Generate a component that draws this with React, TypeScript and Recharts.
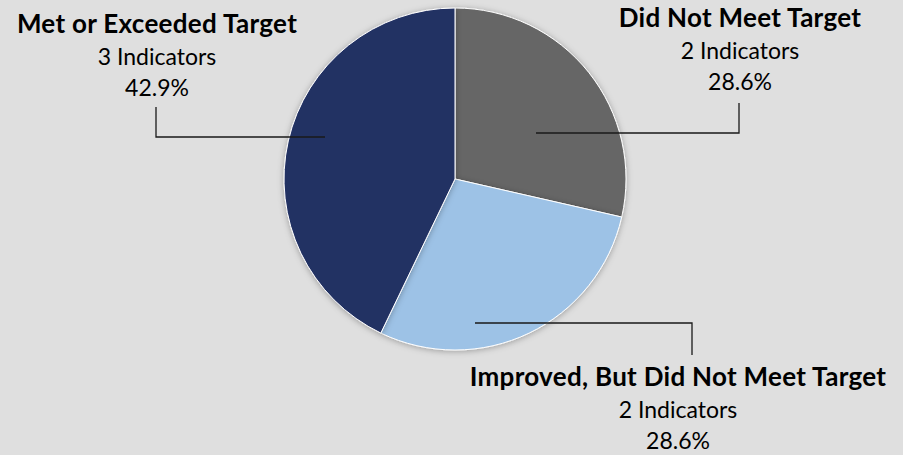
import { Cell, Pie, PieChart } from "recharts";

const CATEGORIES = [
  "Did Not Meet Target",
  "Improved, But Did Not Meet Target",
  "Met or Exceeded Target",
];
const INDICATOR_COUNTS = [2, 2, 3];
const SLICE_COLORS = ["#666666", "#9dc2e6", "#223064"];

// label placement relative to the pie centre (px): anchor in slice, elbow, text
const LABEL_LAYOUT = [
  { ax: 81, ay: -46, ex: 284, ey: -76, tx: 285, ty: -152 },
  { ax: 20, ay: 144, ex: 237, ey: 176, tx: 223, ty: 207 },
  { ax: -130, ay: -42, ex: -299, ey: -72, tx: -298, ty: -146 },
];

const chartData = CATEGORIES.map((name, i) => ({
  name,
  count: INDICATOR_COUNTS[i],
}));

const FONT = "Lato, 'Open Sans', sans-serif";
const LINE_GAP = 31;

function renderLabel(props: any) {
  const { cx, cy, index, percent, payload } = props;
  const l = LABEL_LAYOUT[index];
  const pct = `${(percent * 100).toFixed(1)}%`;
  return (
    <g key={`lbl-${index}`}>
      <polyline
        points={`${cx + l.ax},${cy + l.ay} ${cx + l.ex},${cy + l.ay} ${cx + l.ex},${cy + l.ey}`}
        fill="none"
        stroke="#1a1a1a"
        strokeWidth={1.3}
      />
      <text
        x={cx + l.tx}
        y={cy + l.ty}
        textAnchor="middle"
        fontFamily={FONT}
        fontSize={23}
        fill="#000"
      >
        <tspan x={cx + l.tx} fontWeight={700} fontSize={26} letterSpacing={0.3}>
          {payload.name}
        </tspan>
        <tspan x={cx + l.tx} dy={LINE_GAP + 1}>
          {`${payload.count} Indicators`}
        </tspan>
        <tspan x={cx + l.tx} dy={LINE_GAP}>
          {pct}
        </tspan>
      </text>
    </g>
  );
}

export default function App() {
  return (
    <div
      style={{
        position: "absolute",
        left: 0,
        top: 0,
        width: 903,
        height: 455,
        background: "#dfdfdf",
      }}
    >
      <PieChart width={903} height={455} margin={{ top: 0, right: 0, bottom: 0, left: 0 }}>
        <defs>
          <filter id="pieShadow" x="-20%" y="-20%" width="140%" height="140%">
            <feDropShadow dx="0" dy="1" stdDeviation="3" floodColor="#000" floodOpacity="0.3" />
          </filter>
        </defs>
        <Pie
          data={chartData}
          dataKey="count"
          nameKey="name"
          cx={455}
          cy={179}
          outerRadius={171}
          startAngle={90}
          endAngle={-270}
          stroke="#ffffff"
          strokeWidth={1}
          label={renderLabel}
          labelLine={false}
          isAnimationActive={false}
          style={{ filter: "url(#pieShadow)" }}
        >
          {chartData.map((d, i) => (
            <Cell key={d.name} fill={SLICE_COLORS[i]} />
          ))}
        </Pie>
      </PieChart>
    </div>
  );
}
